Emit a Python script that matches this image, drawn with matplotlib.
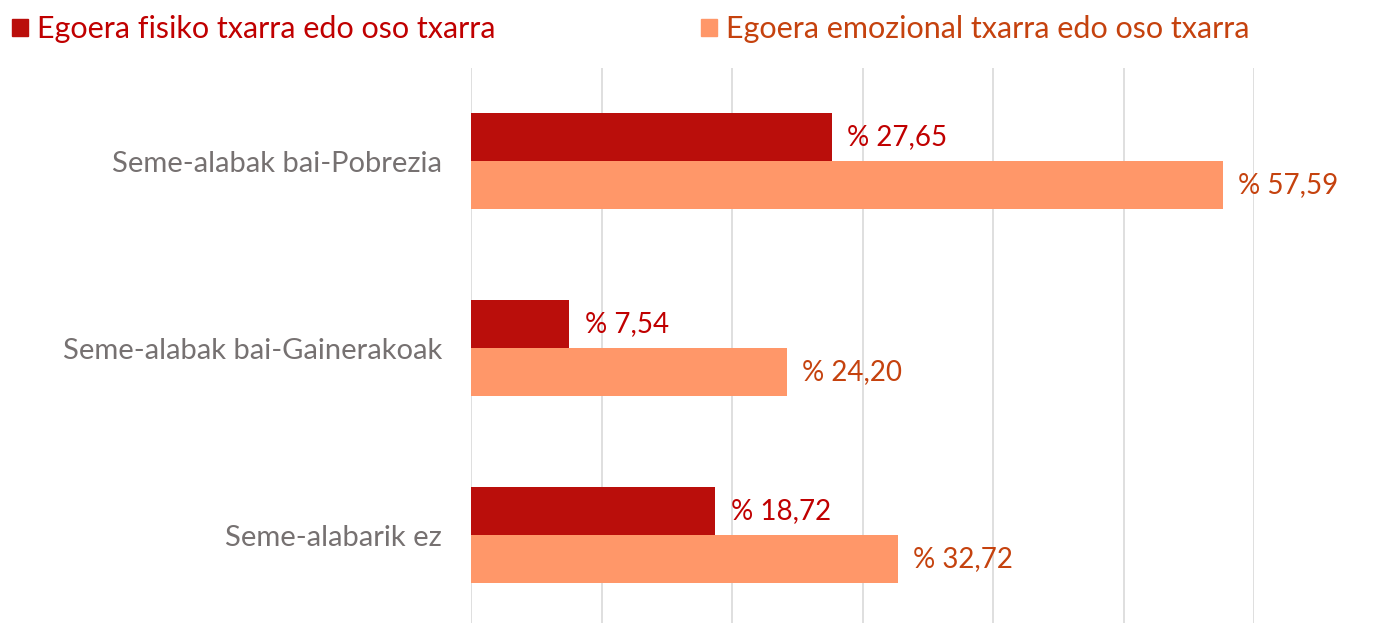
import numpy as np
import matplotlib.pyplot as plt
from matplotlib.patches import Patch

plt.rcParams['font.family'] = ['Lato', 'DejaVu Sans']

categories = ["Seme-alabak bai-Pobrezia", "Seme-alabak bai-Gainerakoak", "Seme-alabarik ez"]
series_names = ["Egoera fisiko txarra edo oso txarra", "Egoera emozional txarra edo oso txarra"]
fisiko = [27.65, 7.54, 18.72]
emozional = [57.59, 24.20, 32.72]

bar_colors = ["#BA0E0B", "#FF9769"]
text_colors = ["#C00000", "#C5420E"]

fig = plt.figure(figsize=(13.74, 6.23), dpi=100)
ax = fig.add_axes([471 / 1374, 0, 783 / 1374, 1 - 68 / 623])

y = np.arange(len(categories))
h = 0.257
b1 = ax.barh(y - h / 2, fisiko, height=h, color=bar_colors[0], zorder=2)
b2 = ax.barh(y + h / 2, emozional, height=h, color=bar_colors[1], zorder=2)

def fmt(v):
    return "% " + f"{v:.2f}".replace(".", ",")

for bars, vals, c in [(b1, fisiko, text_colors[0]), (b2, emozional, text_colors[1])]:
    ax.bar_label(bars, labels=[fmt(v) for v in vals], padding=11, color=c, fontsize=20)

ax.set_xlim(0, 60)
ax.set_ylim(2.47, -0.5)
ax.set_xticks(np.arange(0, 61, 10))
ax.xaxis.grid(True, color="#D9D9D9", linewidth=1.2, zorder=0)
ax.tick_params(axis="x", length=0, labelbottom=False)
ax.set_yticks(y)
ax.set_yticklabels(categories, fontsize=21, color="#767171")
ax.tick_params(axis="y", length=0, pad=21)
for s in ax.spines.values():
    s.set_visible(False)

handles = [Patch(color=bar_colors[0]), Patch(color=bar_colors[1])]
leg = fig.legend(handles, series_names, loc="upper left", bbox_to_anchor=(0.0, 0.995),
                 ncol=2, frameon=False, fontsize=22, handlelength=0.5, handleheight=0.5,
                 handletextpad=0.3, columnspacing=6.75, borderaxespad=0)
for t, c in zip(leg.get_texts(), text_colors):
    t.set_color(c)

fig.savefig("out.png", dpi=100)
